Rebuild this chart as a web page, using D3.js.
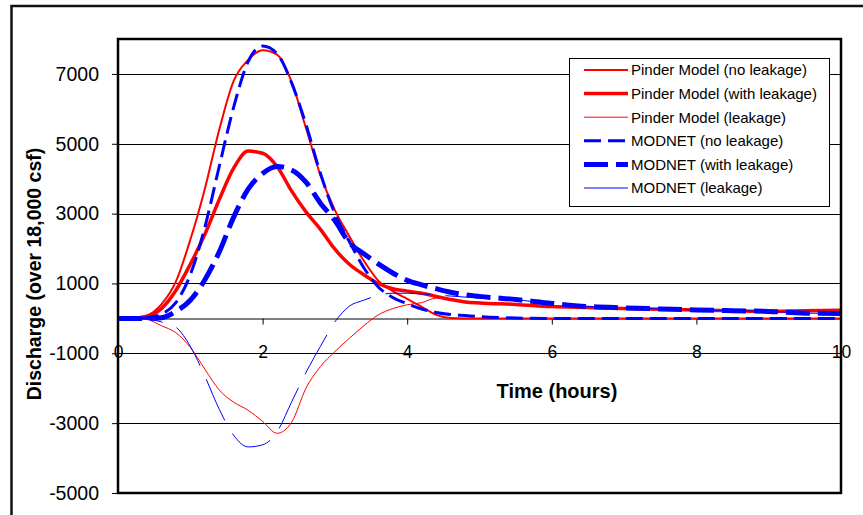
<!DOCTYPE html>
<html>
<head>
	<title>Discharge vs time</title>
	<script src="https://cdnjs.cloudflare.com/ajax/libs/d3/7.8.5/d3.min.js"></script>
	<style type="text/css">
	html, body{
		margin:0;
		background:#fff;
	}
	svg text{
		font-family: "Liberation Sans", Arial, sans-serif;
	}
	</style>
</head>
<body>
	<div id="chart"></div>
	<script type="text/javascript">

	// time (hours)
	var hours = [0,0.2,0.4,0.6,0.8,1.0,1.2,1.4,1.6,1.8,2.0,2.2,2.4,2.6,2.8,3.0,3.2,3.4,3.6,3.8,4.0,4.2,4.4,4.6,4.8,5.0,5.5,6.0,6.5,7.0,7.5,8.0,8.5,9.0,9.5,10];

	// discharge values
	var pinderNoLeak   = [0,0,80,400,1050,2250,3700,5400,6800,7400,7680,7550,6780,5450,4100,3100,2350,1650,1080,780,560,330,100,10,0,0,0,0,0,0,0,0,0,0,0,0];
	var pinderWithLeak = [0,0,60,280,800,1550,2400,3400,4300,4790,4730,4350,3650,3050,2550,1980,1550,1250,1000,850,780,720,630,540,470,440,400,340,310,280,260,240,220,200,220,230];
	var pinderLeak     = [0,0,-30,-210,-410,-830,-1450,-2050,-2400,-2630,-2950,-3290,-2980,-2000,-1380,-950,-570,-210,100,280,390,450,580,540,470,440,400,340,310,280,260,240,220,200,220,230];
	var modnetNoLeak   = [0,0,20,120,450,1250,2600,4350,6050,7350,7800,7580,6750,5550,4150,3000,2200,1450,900,600,420,270,170,110,80,50,10,0,0,0,0,0,0,0,0,0];
	var modnetWithLeak = [0,0,0,20,200,520,1100,1900,2900,3700,4150,4350,4250,3900,3300,2800,2170,1850,1560,1300,1090,960,850,750,680,630,540,430,340,300,270,240,220,200,150,140];
	var modnetLeak     = [0,0,-20,-100,-250,-800,-1650,-2600,-3350,-3680,-3620,-3250,-2400,-1550,-800,-100,350,520,660,720,720,700,670,640,610,580,530,430,340,300,270,240,220,200,150,140];

	var seriesNames = ["Pinder Model (no leakage)", "Pinder Model (with leakage)", "Pinder Model (leakage)",
		"MODNET (no leakage)", "MODNET (with leakage)", "MODNET (leakage)"];

	var xTicks = [0,2,4,6,8,10];
	var yTicks = [-5000,-3000,-1000,1000,3000,5000,7000];

	// line styles, same order as the names
	var styles = [
		{color:"#ff0000", width:2,   dash:null},
		{color:"#ff0000", width:3.5, dash:null},
		{color:"#ff0000", width:1,   dash:null},
		{color:"#0000ff", width:3,   dash:"17,7"},
		{color:"#0000ff", width:5,   dash:"24,8"},
		{color:"#0000ff", width:1,   dash:"45,15"}
	];
	var values = [pinderNoLeak, pinderWithLeak, pinderLeak, modnetNoLeak, modnetWithLeak, modnetLeak];

	var W = 863, H = 515;
	var plot = {left:118, right:841, top:39, bottom:493};

	var svg = d3.select("#chart").append("svg")
		.attr("width", W)
		.attr("height", H);

	svg.append("rect").attr("width", W).attr("height", H).attr("fill", "#fff");

	// outer chart frame (runs off the right/bottom of the picture)
	svg.append("rect")
		.attr("x", 11.5).attr("y", 6)
		.attr("width", 900).attr("height", 600)
		.attr("fill", "none")
		.attr("stroke", "#111")
		.attr("stroke-width", 2.5);

	var x = d3.scaleLinear().domain([0,10]).range([plot.left, plot.right]);
	var y = d3.scaleLinear().domain([-5000,8000]).range([plot.bottom, plot.top]);

	/* gridlines */
	svg.append("g").selectAll("line")
		.data(yTicks.filter(function(d){ return d > -5000; }))
		.enter().append("line")
		.attr("x1", plot.left).attr("x2", plot.right)
		.attr("y1", function(d){ return Math.round(y(d)) + 0.5; })
		.attr("y2", function(d){ return Math.round(y(d)) + 0.5; })
		.attr("stroke", "#000")
		.attr("stroke-width", 1);

	/* y axis */
	var yAxis = d3.axisLeft(y)
		.tickValues(yTicks)
		.tickSize(6)
		.tickSizeOuter(0)
		.tickPadding(13)
		.tickFormat(function(d){ return String(d); });

	var gy = svg.append("g")
		.attr("transform", "translate(" + plot.left + ",0)")
		.call(yAxis);
	gy.select(".domain").remove();
	gy.selectAll("text").attr("font-size", "19.5px").attr("fill", "#000")
		.attr("font-family", "'Liberation Sans', Arial, sans-serif");

	/* x axis sits on the zero line */
	var xAxis = d3.axisBottom(x)
		.tickValues(xTicks)
		.tickSize(6)
		.tickSizeOuter(0)
		.tickPadding(21)
		.tickFormat(function(d){ return String(d); });

	var gx = svg.append("g")
		.attr("transform", "translate(0," + (Math.round(y(0)) + 0.5) + ")")
		.call(xAxis);
	gx.select(".domain").attr("stroke", "#000");
	gx.selectAll("text").attr("font-size", "17.5px").attr("fill", "#000")
		.attr("font-family", "'Liberation Sans', Arial, sans-serif");

	/* the series */
	var line = d3.line()
		.x(function(d){ return x(d[0]); })
		.y(function(d){ return y(d[1]); })
		.curve(d3.curveMonotoneX);

	var lines = svg.append("g");
	values.forEach(function(v, i){
		var pts = hours.map(function(t, j){ return [t, v[j]]; });
		var st = styles[i];
		lines.append("path")
			.attr("d", line(pts))
			.attr("fill", "none")
			.attr("stroke", st.color)
			.attr("stroke-width", st.width)
			.attr("stroke-dasharray", st.dash)
			.attr("stroke-linejoin", "round");
	});

	/* plot area border */
	svg.append("rect")
		.attr("x", plot.left).attr("y", plot.top)
		.attr("width", plot.right - plot.left)
		.attr("height", plot.bottom - plot.top)
		.attr("fill", "none")
		.attr("stroke", "#000")
		.attr("stroke-width", 2.5);

	/* axis titles */
	svg.append("text")
		.attr("x", 557).attr("y", 398)
		.attr("text-anchor", "middle")
		.attr("font-size", "20px")
		.attr("font-weight", "bold")
		.text("Time (hours)");

	svg.append("text")
		.attr("transform", "translate(41,274) rotate(-90)")
		.attr("text-anchor", "middle")
		.attr("font-size", "19.5px")
		.attr("font-weight", "bold")
		.text("Discharge (over 18,000 csf)");

	/* legend */
	var legend = svg.append("g");
	legend.append("rect")
		.attr("x", 569.5).attr("y", 58.5)
		.attr("width", 260).attr("height", 148)
		.attr("fill", "#fff")
		.attr("stroke", "#000")
		.attr("stroke-width", 1);

	var rows = legend.selectAll("g.row")
		.data(seriesNames)
		.enter().append("g")
		.attr("class", "row")
		.attr("transform", function(d, i){ return "translate(0," + (70 + i * 23.6) + ")"; });

	rows.append("line")
		.attr("x1", 584).attr("x2", 628)
		.attr("stroke", function(d, i){ return styles[i].color; })
		.attr("stroke-width", function(d, i){ return styles[i].width; })
		.attr("stroke-dasharray", function(d, i){ return styles[i].dash; });

	rows.append("text")
		.attr("x", 631)
		.attr("dy", "0.36em")
		.attr("font-size", "15px")
		.text(function(d){ return d; });

	</script>
</body>
</html>
